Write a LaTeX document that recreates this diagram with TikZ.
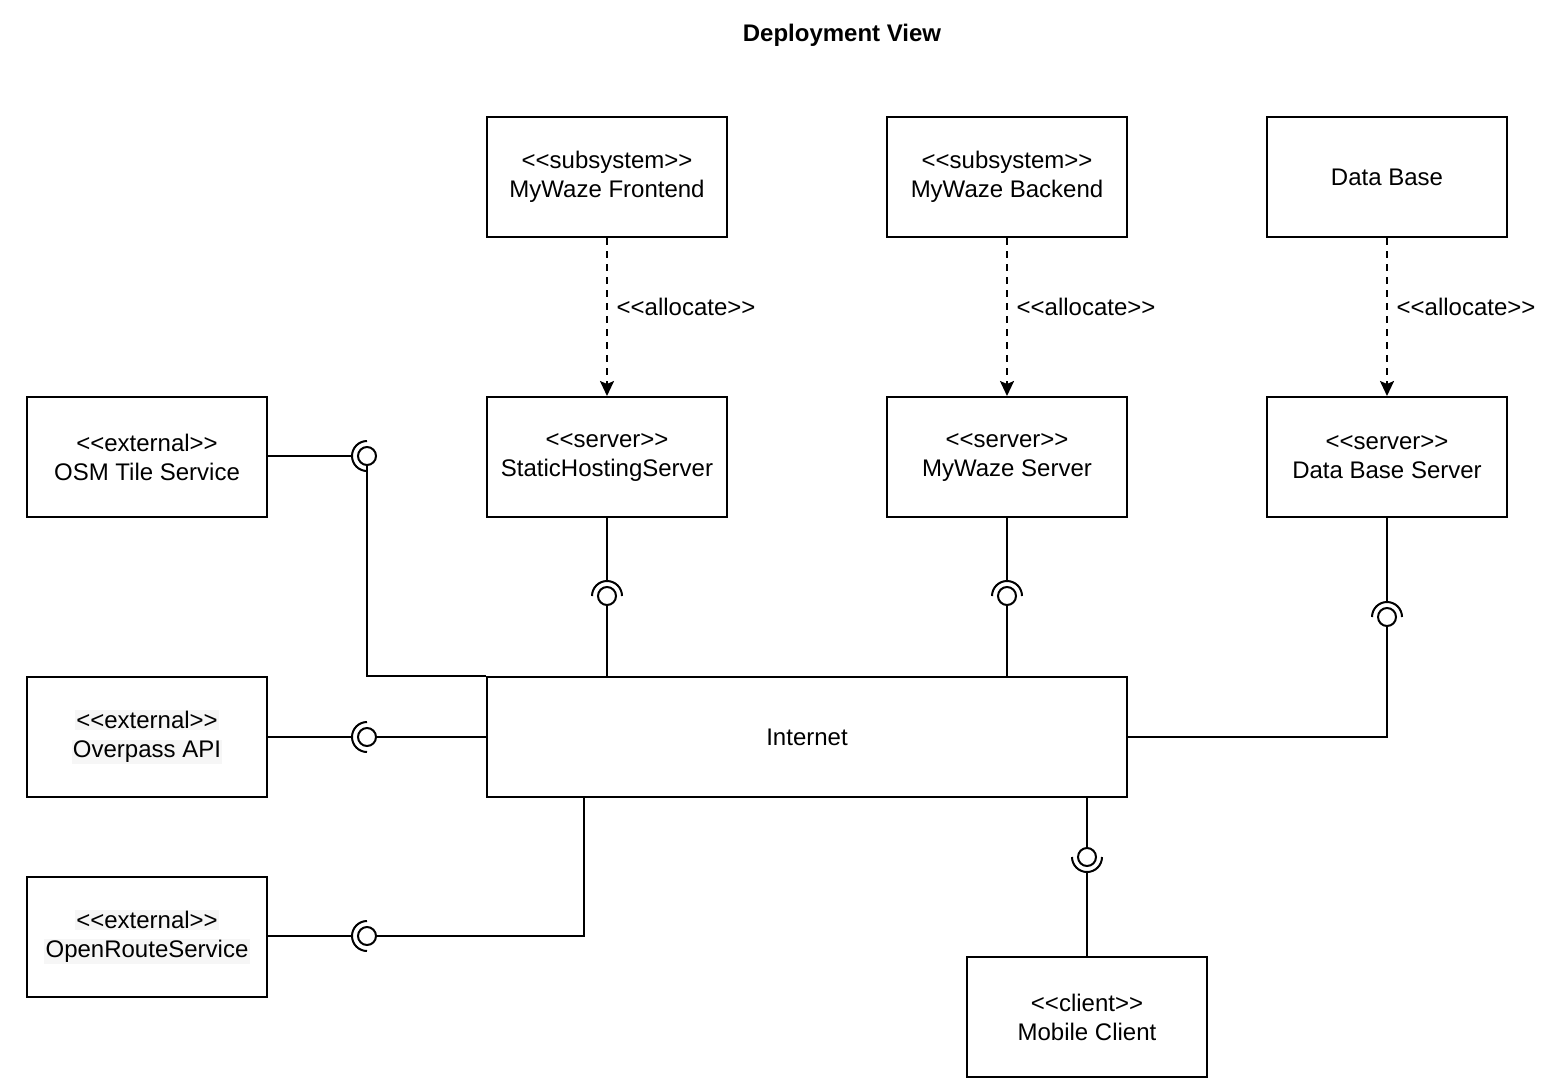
\documentclass[tikz,border=0pt]{standalone}
\usepackage{fontspec}
\setmainfont{Liberation Sans}[Ligatures=TeXOff]
\usetikzlibrary{arrows.meta}
\definecolor{hlgray}{HTML}{F6F6F6}
\newcommand{\hlline}[1]{{\setlength{\fboxsep}{0.6pt}\colorbox{hlgray}{#1}}}

\begin{document}
\begin{tikzpicture}[x=0.5pt, y=-0.5pt,
    box/.style={draw, line width=1pt, minimum width=120pt, minimum height=60pt,
        align=center, inner sep=0pt, font=\fontsize{12}{14.5}\selectfont},
    ball/.style={draw, circle, line width=1pt, minimum size=9pt, inner sep=0pt},
    wire/.style={line width=1pt},
    alloc/.style={line width=1pt, dash pattern=on 3.5pt off 3pt,
        -{Stealth[length=7.5pt,width=7pt,inset=1.5pt]}},
    lbl/.style={font=\fontsize{12}{14.5}\selectfont}]

    \useasboundingbox (0,0) rectangle (1546,1086);

    \node[font=\bfseries\fontsize{12}{14}\selectfont] (title) at (842,35) {Deployment View};

    % top row
    \node[box] (fe) at (607,177) {<<subsystem>>\\MyWaze Frontend};
    \node[box] (be) at (1007,177) {<<subsystem>>\\MyWaze Backend};
    \node[box] (db) at (1387,177) {Data Base};

    % servers
    \node[box] (osm) at (147,457) {<<external>>\\OSM Tile Service};
    \node[box] (shs) at (607,457) {<<server>>\\StaticHostingServer};
    \node[box] (mws) at (1007,457) {<<server>>\\MyWaze Server};
    \node[box] (dbs) at (1387,457) {<<server>>\\Data Base Server};

    \node[box] (ovp) at (147,737) {\hlline{<<external>>}\\\hlline{Overpass API}};
    \node[box, minimum width=320pt] (net) at (807,737) {Internet};
    \node[box] (ors) at (147,937) {\hlline{<<external>>}\\\hlline{OpenRouteService}};
    \node[box] (mob) at (1087,1017) {<<client>>\\Mobile Client};

    \draw[alloc] (fe) -- node[lbl, right, xshift=1pt, yshift=5pt] {<<allocate>>} (shs);
    \draw[alloc] (be) -- node[lbl, right, xshift=1pt, yshift=5pt] {<<allocate>>} (mws);
    \draw[alloc] (db) -- node[lbl, right, xshift=1pt, yshift=5pt] {<<allocate>>} (dbs);

    % balls
    \node[ball] (b1) at (367,456) {};
    \node[ball] (b2) at (607,596) {};
    \node[ball] (b3) at (1007,596) {};
    \node[ball] (b4) at (1387,617) {};
    \node[ball] (b5) at (367,737) {};
    \node[ball] (b6) at (367,936) {};
    \node[ball] (b7) at (1087,857) {};

    % sockets
    \draw[wire] ([shift={(90:7.5pt)}]b1.center) arc[start angle=90, end angle=270, radius=7.5pt];
    \draw[wire] ([shift={(0:7.5pt)}]b2.center) arc[start angle=0, end angle=180, radius=7.5pt];
    \draw[wire] ([shift={(0:7.5pt)}]b3.center) arc[start angle=0, end angle=180, radius=7.5pt];
    \draw[wire] ([shift={(0:7.5pt)}]b4.center) arc[start angle=0, end angle=180, radius=7.5pt];
    \draw[wire] ([shift={(90:7.5pt)}]b5.center) arc[start angle=90, end angle=270, radius=7.5pt];
    \draw[wire] ([shift={(90:7.5pt)}]b6.center) arc[start angle=90, end angle=270, radius=7.5pt];
    \draw[wire] ([shift={(180:7.5pt)}]b7.center) arc[start angle=180, end angle=360, radius=7.5pt];

    \coordinate (ors-in) at ([xshift=49pt]net.south west);
    \coordinate (mob-in) at (net.south -| b7);

    % connectors
    \draw[wire] (osm.east |- b1) -- ([xshift=-7.5pt]b1.center);
    \draw[wire] (b1.south) |- (net.north west);
    \draw[wire] (shs.south) -- ([yshift=7.5pt]b2.center);
    \draw[wire] (b2.south) -- (b2.south |- net.north);
    \draw[wire] (mws.south) -- ([yshift=7.5pt]b3.center);
    \draw[wire] (b3.south) -- (b3.south |- net.north);
    \draw[wire] (dbs.south) -- ([yshift=7.5pt]b4.center);
    \draw[wire] (b4.south) |- (net.east);
    \draw[wire] (ovp.east |- b5) -- ([xshift=-7.5pt]b5.center);
    \draw[wire] (b5.east) -- (net.west);
    \draw[wire] (ors.east |- b6) -- ([xshift=-7.5pt]b6.center);
    \draw[wire] (b6.east) -| (ors-in);
    \draw[wire] (mob-in) -- (b7.north);
    \draw[wire] ([yshift=-7.5pt]b7.center) -- (mob.north);

\end{tikzpicture}
\end{document}
